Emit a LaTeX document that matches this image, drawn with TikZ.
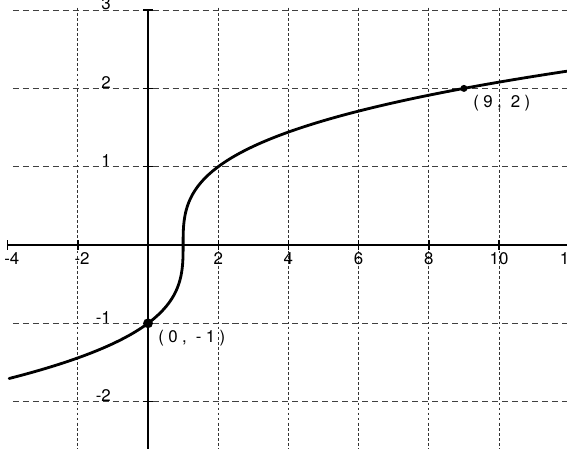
\documentclass[tikz,border=0pt]{standalone}
\usepackage{fontspec}
\setmainfont{TeX Gyre Heros}
\newfontfamily\ptfont[LetterSpace=26]{TeX Gyre Heros}
\usetikzlibrary{positioning}
\tikzset{
  gridh/.style={draw=black!75, line width=0.8pt, dash pattern=on 4.3pt off 2.8pt},
  gridv/.style={draw=black!80, line width=0.6pt, dash pattern=on 2pt off 1.6pt},
  axis/.style={line width=1pt},
  ticklbl/.style={font=\fontsize{12}{13}\selectfont, inner sep=0pt},
  dot/.style={circle, fill=black, inner sep=0pt, minimum size=#1},
  ptlbl/.style={font=\ptfont\fontsize{12}{13}\selectfont, inner sep=0pt}
}
\begin{document}
\begin{tikzpicture}[x=0.8775cm, y=1.9575cm]
\useasboundingbox (-4.217,-2.605) rectangle (11.937,3.129);
\clip (-4.217,-2.605) rectangle (11.937,3.129);
% grid
\foreach \y in {-2,-1,1,2,3}
  \draw[gridh] (-3.85,\y) -- (12.2,\y);
\foreach \x in {-2,2,4,...,10}
  \draw[gridv] (\x,3.03) -- (\x,-2.7);
% axes
\draw[axis] (-4,0) -- (12.2,0);
\draw[axis] (0,3) -- (0,-2.7);
\foreach \x/\dx in {-4/3pt,-2/3pt,2/0pt,4/0pt,6/0pt,8/0pt,10/0pt,12/0pt} {
  \draw[axis] (\x,0) ++(0pt,-3.5pt) -- ++(0pt,7pt);
  \node[ticklbl, anchor=north] (xl\x) at ([xshift=\dx, yshift=-5pt]\x,0) {\x};
}
\foreach \y in {-2,-1,1,2,3} {
  \draw[axis] (0,\y) ++(-3.5pt,0pt) -- ++(7pt,0pt);
  \node[ticklbl, anchor=south east] (yl\y) at (-1.05,\y) {\y};
}
% y = cube root of (x-1)
\draw[line width=2pt, line cap=round] plot[variable=\t, domain=-1.705:2.24, samples=120, smooth] ({\t*\t*\t+1},{\t});
\node[dot=7pt] (p0) at (0,-1) {};
\node[dot=5pt] (p9) at (9,2) {};
\node[ptlbl, below right=2pt and 4.5pt of p0] (l0) {(0, -1)};
\node[ptlbl, below right=2.5pt and 4.6pt of p9] (l9) {(9, 2)};
\end{tikzpicture}
\end{document}
